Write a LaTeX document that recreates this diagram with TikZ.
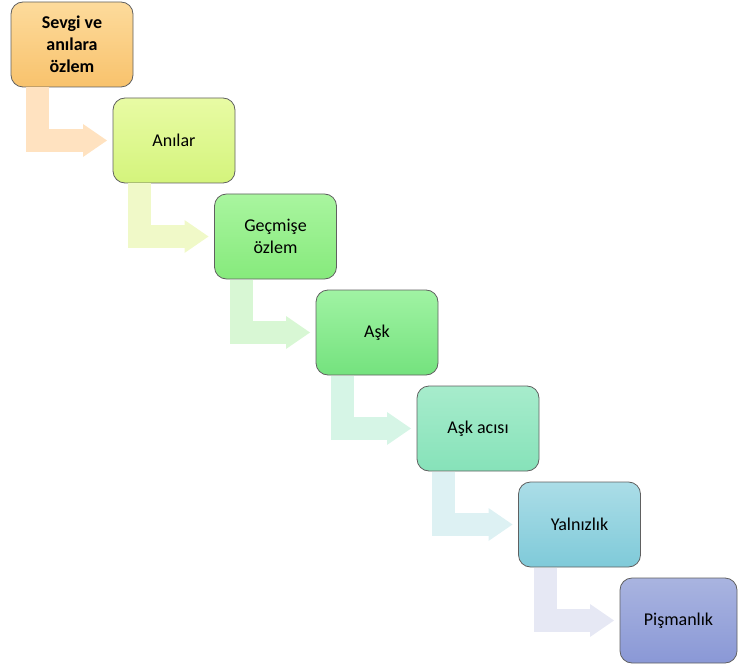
\documentclass[tikz,border=0pt]{standalone}
\usepackage{fontspec}
\setmainfont{Carlito}
\usetikzlibrary{arrows.meta}

\definecolor{topA}{HTML}{FDDB9C}\definecolor{botA}{HTML}{F8C26C}
\definecolor{topB}{HTML}{E8FBA4}\definecolor{botB}{HTML}{D4F47C}
\definecolor{topC}{HTML}{A9F59F}\definecolor{botC}{HTML}{86EA7C}
\definecolor{topD}{HTML}{A0F3A3}\definecolor{botD}{HTML}{74E27E}
\definecolor{topE}{HTML}{A7ECCC}\definecolor{botE}{HTML}{86E2B9}
\definecolor{topF}{HTML}{ABDDE7}\definecolor{botF}{HTML}{7FCAD9}
\definecolor{topG}{HTML}{A9B4E0}\definecolor{botG}{HTML}{8A98D6}
\definecolor{flow1}{HTML}{FFE2C0}
\definecolor{flow2}{HTML}{F0F9C8}
\definecolor{flow3}{HTML}{D8F7D4}
\definecolor{flow4}{HTML}{D6F5E6}
\definecolor{flow5}{HTML}{DDF1F3}
\definecolor{flow6}{HTML}{E6E8F4}

\begin{document}
\begin{tikzpicture}[x=1pt, y=-1pt,
  box/.style={draw=gray!75!black, line width=0.8pt, rounded corners=12pt,
    minimum width=122pt, minimum height=85pt, outer sep=0pt, inner sep=2pt,
    align=center, font=\fontsize{18}{22}\selectfont},
  flow/.style={line width=23pt, -{Triangle[length=24pt,width=33pt,line width=0pt]}}]
\useasboundingbox (0,0) rectangle (738,668);

% steps
\node[box, top color=topA, bottom color=botA] (b1) at (72,44.5)
  {\textbf{Sevgi ve}\\\textbf{anılara}\\\textbf{özlem}};
\node[box, top color=topB, bottom color=botB] (b2) at (174,140.5) {Anılar};
\node[box, top color=topC, bottom color=botC] (b3) at (275.5,236.5) {Geçmişe\\özlem};
\node[box, top color=topD, bottom color=botD] (b4) at (377,332.5) {Aşk};
\node[box, top color=topE, bottom color=botE] (b5) at (478,428.5) {Aşk acısı};
\node[box, top color=topF, bottom color=botF] (b6) at (579.5,524.5) {Yalnızlık};
\node[box, top color=topG, bottom color=botG, minimum width=117pt] (b7) at (678.5,620.5) {Pişmanlık};

% bent arrows
\foreach \i [evaluate=\i as \j using int(\i+1)] in {1,...,6}
  \draw[flow, color=flow\i] ([xshift=26.5pt,yshift=-0.5pt]b\i.south west) |- ([xshift=-6pt]b\j.west);
\end{tikzpicture}
\end{document}
